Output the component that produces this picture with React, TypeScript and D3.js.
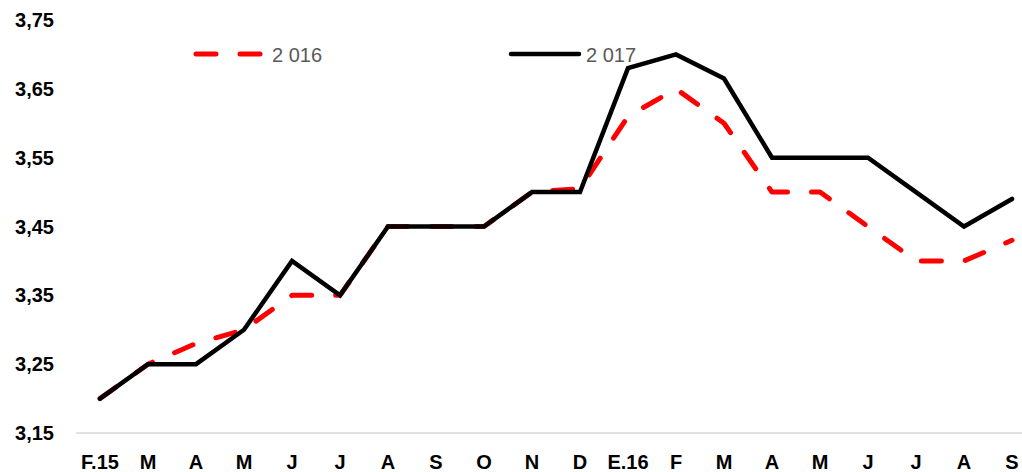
import React from 'react';
import * as d3 from 'd3';

const months = ['F.15', 'M', 'A', 'M', 'J', 'J', 'A', 'S', 'O', 'N', 'D', 'E.16', 'F', 'M', 'A', 'M', 'J', 'J', 'A', 'S'];
const series2016 = [3.2, 3.25, 3.28, 3.3, 3.35, 3.35, 3.45, 3.45, 3.45, 3.5, 3.505, 3.61, 3.65, 3.6, 3.5, 3.5, 3.45, 3.4, 3.4, 3.43];
const series2017 = [3.2, 3.25, 3.25, 3.3, 3.4, 3.35, 3.45, 3.45, 3.45, 3.5, 3.5, 3.68, 3.7, 3.665, 3.55, 3.55, 3.55, 3.5, 3.45, 3.49];
const yTicks = [3.15, 3.25, 3.35, 3.45, 3.55, 3.65, 3.75];

const W = 1022;
const H = 472;
const font = '"Liberation Sans", Arial, sans-serif';

const App: React.FC = () => {
  const idx = months.map((_, i) => String(i));
  const x = d3.scaleBand<string>().domain(idx).range([76, 1036]);
  const y = d3.scaleLinear().domain([3.15, 3.75]).range([433, 20]);
  const cx = (i: number) => (x(String(i)) as number) + x.bandwidth() / 2;

  const line = d3.line<number>()
    .x((_, i) => cx(i))
    .y(d => y(d));

  const fmt = (v: number) => v.toFixed(2).replace('.', ',');

  return (
    <svg width={W} height={H} style={{ position: 'absolute', left: 0, top: 0, background: '#fff' }}>
      <line x1={76} x2={W} y1={y(3.15)} y2={y(3.15)} stroke="#d9d9d9" strokeWidth={1.5} />

      {yTicks.map(t => (
        <text key={t} x={54} y={y(t)} dy="0.35em" textAnchor="end"
          fontFamily={font} fontWeight="bold" fontSize={20} fill="#000">
          {fmt(t)}
        </text>
      ))}

      {months.map((m, i) => (
        <text key={i} x={cx(i)} y={469} textAnchor="middle"
          fontFamily={font} fontWeight="bold" fontSize={20} fill="#000">
          {m}
        </text>
      ))}

      <path d={line(series2016) || ''} fill="none" stroke="#ff0000" strokeWidth={5}
        strokeDasharray="20,24" strokeLinecap="round" strokeLinejoin="round" />
      <path d={line(series2017) || ''} fill="none" stroke="#000" strokeWidth={4.5}
        strokeLinecap="round" strokeLinejoin="miter" />

      {/* legend */}
      <line x1={196} x2={260} y1={54} y2={54} stroke="#ff0000" strokeWidth={5}
        strokeDasharray="20,24" strokeLinecap="round" />
      <text x={272} y={55} dy="0.35em" fontFamily={font} fontSize={20} fill="#595959">2 016</text>
      <line x1={511} x2={579} y1={54} y2={54} stroke="#000" strokeWidth={4.5} strokeLinecap="round" />
      <text x={586} y={55} dy="0.35em" fontFamily={font} fontSize={20} fill="#595959">2 017</text>
    </svg>
  );
};

export default App;
